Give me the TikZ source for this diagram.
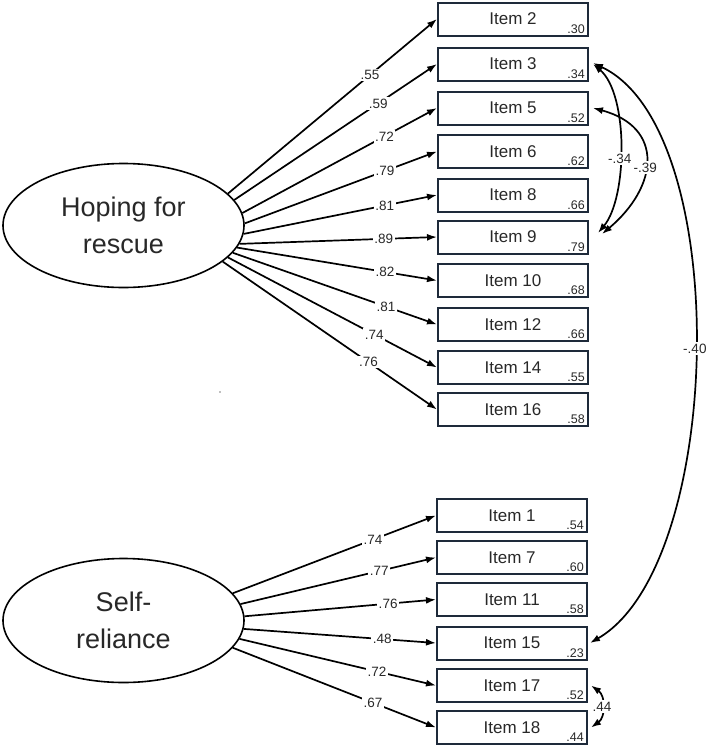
\documentclass[tikz,border=0pt]{standalone}
\usepackage{fontspec}
\setmainfont{Liberation Sans}
\usetikzlibrary{shapes.geometric,arrows.meta}
\definecolor{boxline}{RGB}{30,42,58}
\definecolor{ink}{RGB}{40,40,40}
\begin{document}
\begin{tikzpicture}[x=1pt,y=-1pt,
  >={Latex[length=10pt,width=7pt]},
  latent/.style={ellipse, draw=black, line width=1.6pt, minimum width=241pt,
    minimum height=124pt, inner sep=0pt, align=center, text=ink,
    font=\fontsize{27}{37}\selectfont},
  item/.style={rectangle, draw=boxline, line width=2pt, minimum width=150pt,
    minimum height=33pt, inner sep=0pt, text=ink, font=\fontsize{17}{19}\selectfont},
  err/.style={anchor=south east, inner sep=0pt, text=ink,
    font=\fontsize{12.5}{14}\selectfont},
  coef/.style={fill=white, inner sep=1.5pt, text=ink,
    font=\fontsize{13.5}{15}\selectfont},
  load/.style={->, line width=1.7pt, black},
  cov/.style={<->, line width=1.7pt, black}]

\useasboundingbox (0,0) rectangle (709,748);

% latent factors
\node[latent] (hope) at (123.5,225.5) {Hoping for\\rescue};
\node[latent] (self) at (123.5,620.5) {Self-\\reliance};

% indicators of the first factor, with their R-squared values
\foreach \n/\t/\y/\e in {i2/2/19/.30, i3/3/64/.34, i5/5/108/.52, i6/6/151.5/.62,
    i8/8/195/.66, i9/9/237/.79, i10/10/280.5/.68, i12/12/324.5/.66,
    i14/14/367.5/.55, i16/16/409.5/.58}{
  \node[item] (\n) at (513,\y) {Item \t};
  \node[err] (e\n) at ([xshift=-4pt,yshift=3pt]\n.south east) {\e};
}

% indicators of the second factor
\foreach \n/\t/\y/\e in {i1/1/515.5/.54, i7/7/557.5/.60, i11/11/599.5/.58,
    i15/15/643/.23, i17/17/685.5/.52, i18/18/727.5/.44}{
  \node[item] (\n) at (512,\y) {Item \t};
  \node[err] (e\n) at ([xshift=-4pt,yshift=3pt]\n.south east) {\e};
}

% factor loadings
\foreach \a/\n/\v/\p in {17/i2/.55/.68, 13/i3/.59/.71, 6/i5/.72/.73, 1/i6/.79/.73,
    -4/i8/.81/.73, -9/i9/.89/.73, -11/i10/.82/.74, -14/i12/.81/.75,
    -17/i14/.74/.70, -20/i16/.76/.68}{
  \draw[load] (hope.\a) -- node[coef,pos=\p] {\v} (\n.west);
}
\foreach \a/\n/\v/\p in {14/i1/.74/.69, 8/i7/.77/.71, 2/i11/.76/.75,
    -4/i15/.48/.72, -9/i17/.72/.70, -14/i18/.67/.69}{
  \draw[load] (self.\a) -- node[coef,pos=\p] {\v} (\n.west);
}

% residual covariances
\draw[cov] ([xshift=4pt,yshift=1pt]i3.east) to[out=-25,in=30,looseness=0.685]
  node[coef,pos=.5] {-.40} ([xshift=2pt]i15.east);
\draw[cov] ([xshift=4pt]i5.east) to[out=-15,in=40,looseness=1.5]
  node[coef,pos=.55] {-.39} ([xshift=13pt,yshift=3pt]i9.east);
\draw[cov] ([xshift=4pt]i3.east) to[out=-40,in=50,looseness=0.7]
  node[coef,pos=.56] {-.34} ([xshift=9pt,yshift=4pt]i9.east);
\draw[cov] ([xshift=3pt]i17.east) to[out=-35,in=35,looseness=1.1]
  node[coef,pos=.5] {.44} ([xshift=3pt]i18.east);

% stray speck
\fill[gray] (220,392) circle (0.9pt);
\end{tikzpicture}
\end{document}
